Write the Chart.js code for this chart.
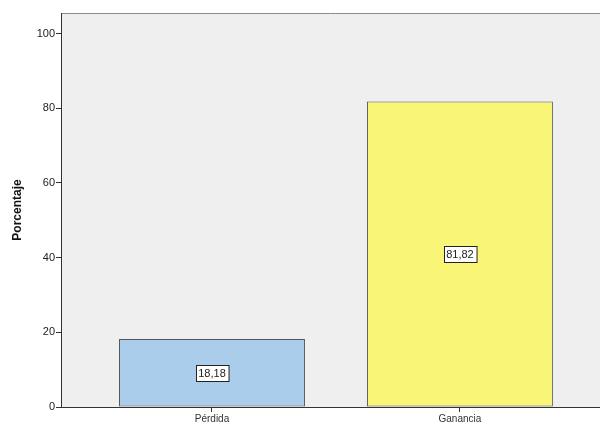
<!DOCTYPE html>
<html>
<head>
<meta charset="utf-8">
<script src="https://cdn.jsdelivr.net/npm/chart.js@4.4.1/dist/chart.umd.min.js"></script>
<style>
  html, body { margin: 0; padding: 0; background: #fff; }
  #wrap { width: 600px; height: 426px; }
</style>
</head>
<body>
<div id="wrap"><canvas id="chart1" width="600" height="426"></canvas></div>
<script>
var categories = ['Pérdida', 'Ganancia'];
var percentages = [18.18, 81.82];
var barColors = ['#a9cdeb', '#f8f577'];
var yTicks = [0, 20, 40, 60, 80, 100];

// plot background, top border line and boxed value labels
var spssLook = {
    id: 'spssLook',
    beforeDraw: function (chart) {
        var a = chart.chartArea, ctx = chart.ctx;
        ctx.save();
        ctx.fillStyle = '#efefef';
        ctx.fillRect(a.left, a.top, a.right - a.left, a.bottom - a.top);
        ctx.strokeStyle = '#8a8a8a';
        ctx.lineWidth = 1;
        ctx.beginPath();
        ctx.moveTo(a.left, a.top + 0.5);
        ctx.lineTo(a.right, a.top + 0.5);
        ctx.stroke();
        ctx.restore();
    },
    afterDatasetsDraw: function (chart) {
        var ctx = chart.ctx;
        var meta = chart.getDatasetMeta(0);
        ctx.save();
        ctx.font = '11px "Liberation Sans", Arial, sans-serif';
        ctx.textAlign = 'center';
        ctx.textBaseline = 'middle';
        meta.data.forEach(function (bar, i) {
            var txt = percentages[i].toFixed(2).replace('.', ',');
            var cy = (bar.y + bar.base) / 2;
            var w = ctx.measureText(txt).width + 5;
            var h = 16;
            var x0 = Math.round(bar.x - w / 2) + 0.5, y0 = Math.round(cy - h / 2) + 0.5;
            ctx.fillStyle = '#ffffff';
            ctx.fillRect(x0, y0, w, h);
            ctx.strokeStyle = '#222';
            ctx.lineWidth = 1;
            ctx.strokeRect(x0, y0, w, h);
            ctx.fillStyle = '#222';
            ctx.fillText(txt, bar.x, cy + 1);
        });
        ctx.restore();
    }
};

new Chart(document.getElementById('chart1'), {
    type: 'bar',
    data: {
        datasets: [{
            data: percentages.map(function (v, i) { return { x: i, y: v }; }),
            backgroundColor: barColors,
            borderColor: '#555',
            borderWidth: 1,
            borderSkipped: false,
            categoryPercentage: 1,
            barPercentage: 0.75
        }]
    },
    options: {
        responsive: false,
        animation: false,
        layout: { padding: { top: 13, right: 0, left: 0, bottom: 0 } },
        plugins: { legend: { display: false }, tooltip: { enabled: false } },
        scales: {
            x: {
                type: 'linear',
                offset: false,
                min: -0.609,
                max: 1.565,
                afterBuildTicks: function (scale) {
                    scale.ticks = categories.map(function (c, i) { return { value: i }; });
                },
                afterFit: function (scale) { scale.height = 19; },
                ticks: {
                    callback: function (v) { return categories[v]; },
                    color: '#333',
                    font: { family: '"Liberation Sans", Arial, sans-serif', size: 10 },
                    padding: 1,
                    maxRotation: 0
                },
                grid: { offset: false, drawOnChartArea: false, drawTicks: true, tickLength: 5, color: '#333' },
                border: { color: '#333', width: 1 }
            },
            y: {
                min: 0,
                max: 105.5,
                afterBuildTicks: function (scale) {
                    scale.ticks = yTicks.map(function (v) { return { value: v }; });
                },
                afterFit: function (scale) { scale.width = 61; },
                ticks: {
                    color: '#222',
                    font: { family: '"Liberation Sans", Arial, sans-serif', size: 11 },
                    padding: 1
                },
                grid: { drawOnChartArea: false, drawTicks: true, tickLength: 5, color: '#333' },
                border: { color: '#333', width: 1 },
                title: {
                    display: true,
                    text: 'Porcentaje',
                    color: '#111',
                    font: { family: '"Liberation Sans", Arial, sans-serif', size: 12, weight: 'bold' },
                    padding: { top: 10, bottom: 0 }
                }
            }
        }
    },
    plugins: [spssLook]
});
</script>
</body>
</html>
